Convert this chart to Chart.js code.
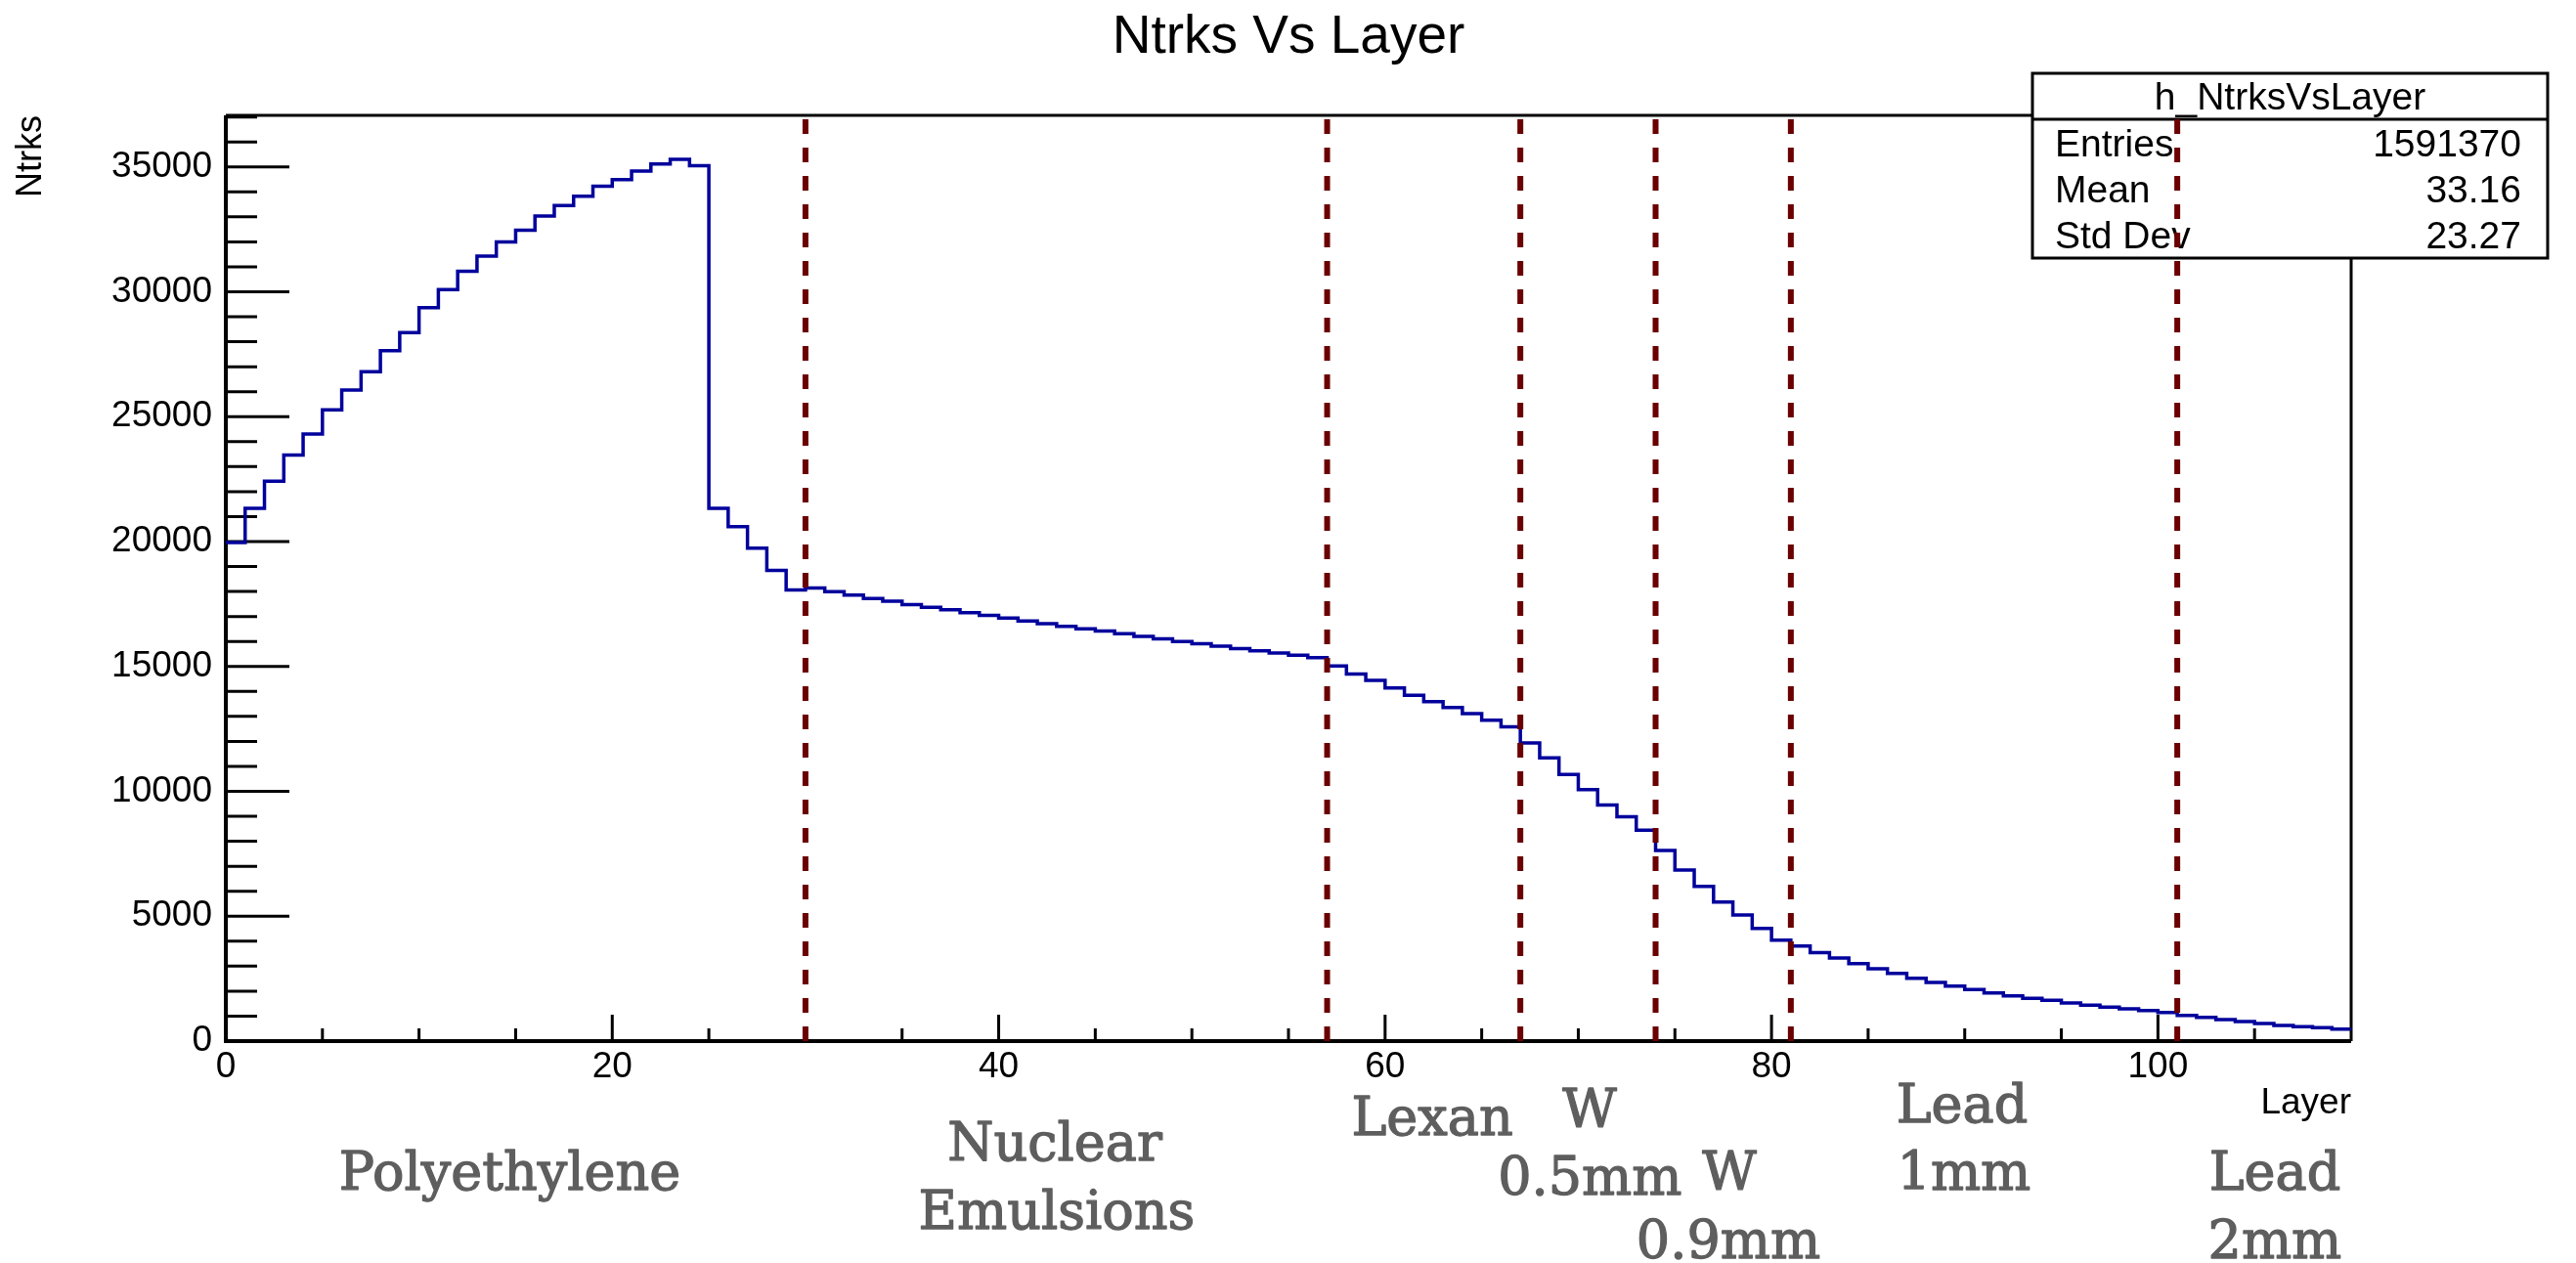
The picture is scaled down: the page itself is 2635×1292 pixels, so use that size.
<!DOCTYPE html>
<html>
<head>
<meta charset="utf-8">
<script src="https://cdn.jsdelivr.net/npm/chart.js@4.4.1/dist/chart.umd.min.js"></script>
<style>
  html, body { margin: 0; padding: 0; background: #ffffff; }
  canvas { display: block; }
</style>
</head>
<body>
<canvas id="c" width="2635" height="1292"></canvas>
<script>
// ---------------- data ----------------
const TITLE = 'Ntrks Vs Layer';
const X_TITLE = 'Layer';
const Y_TITLE = 'Ntrks';

// one value per layer bin [i, i+1), i = 0..109
const NTRKS = [
  19960, 21330, 22420, 23460, 24310, 25270, 26070, 26800, 27640, 28370,
  29360, 30090, 30820, 31430, 32000, 32470, 33030, 33450, 33830, 34230,
  34490, 34830, 35120, 35300, 35050, 21330, 20600, 19735, 18850, 18060,
  18140, 17990, 17860, 17725, 17610, 17480, 17370, 17270, 17150, 17050,
  16940, 16825, 16710, 16600, 16510, 16420, 16315, 16200, 16110, 16000,
  15910, 15810, 15715, 15625, 15535, 15455, 15350, 15020, 14700, 14440,
  14140, 13850, 13590, 13355, 13110, 12850, 12585, 11935, 11345, 10680,
  10070, 9455, 8985, 8440, 7630, 6850, 6195, 5570, 5050, 4510,
  4043, 3808, 3540, 3326, 3100, 2895, 2713, 2517, 2348, 2204,
  2061, 1930, 1813, 1709, 1630, 1526, 1435, 1356, 1291, 1226,
  1148, 1030, 952, 861, 783, 704, 626, 574, 535, 483
];

const X_MIN = 0;
const X_MAX = 110;
const Y_MIN = 0;
const Y_MAX = 37065;

const X_TICKS = [0, 20, 40, 60, 80, 100];
const Y_TICKS = [0, 5000, 10000, 15000, 20000, 25000, 30000, 35000];

// material boundaries (layer numbers)
const BOUNDARIES = [30, 57, 67, 74, 81, 101];

// statistics box
const STATS_NAME = 'h_NtrksVsLayer';
const STATS_LABELS = ['Entries', 'Mean', 'Std Dev'];
const STATS_VALUES = ['1591370', '33.16', '23.27'];

// material annotations
const ANNOT_TEXT = ['Polyethylene', 'Nuclear', 'Emulsions', 'Lexan', 'W', '0.5mm', 'W', '0.9mm', 'Lead', '1mm', 'Lead', '2mm'];

// ---------------- layout (not data) ----------------
// annotation anchors in axis units (layer, Ntrks) -> placed through the scales
const ANNOT_POS = [
  [14.70, -5947], [42.91, -4774], [43.00, -7513], [62.44, -3756],
  [70.58, -3443], [70.60, -6143], [77.82, -5947], [77.77, -8687],
  [89.86, -3248], [89.96, -5947], [106.05, -5947], [106.05, -8687]
];

const FONT_SANS = 'Liberation Sans, Arial, Helvetica, sans-serif';
const FONT_ANNOT = 'DejaVu Serif, serif';

// minor tick positions
const X_MINOR = [];
for (let v = X_MIN + 5; v < X_MAX; v += 5) if (!X_TICKS.includes(v)) X_MINOR.push(v);
const Y_MINOR = [];
for (let v = 1000; v <= Y_MAX; v += 1000) if (!Y_TICKS.includes(v)) Y_MINOR.push(v);

// histogram outline points: bin low edges, plus closing edge
const histPoints = NTRKS.map((v, i) => ({ x: X_MIN + i, y: v }));
histPoints.push({ x: X_MIN + NTRKS.length, y: NTRKS[NTRKS.length - 1] });

const rootStyle = {
  id: 'rootStyle',
  beforeDatasetsDraw(chart) {
    const { ctx, chartArea: a, scales: { x, y } } = chart;
    ctx.save();
    ctx.strokeStyle = '#000';
    ctx.lineCap = 'butt';

    // title
    ctx.fillStyle = '#000';
    ctx.font = '55px ' + FONT_SANS;
    ctx.textAlign = 'center';
    ctx.textBaseline = 'alphabetic';
    ctx.fillText(TITLE, (a.left + a.right) / 2, 54);

    // frame (top + right)
    ctx.lineWidth = 3;
    ctx.beginPath();
    ctx.moveTo(a.left, a.top);
    ctx.lineTo(a.right, a.top);
    ctx.lineTo(a.right, a.bottom);
    ctx.stroke();

    // axes
    ctx.lineWidth = 4;
    ctx.beginPath();
    ctx.moveTo(a.left, a.top);
    ctx.lineTo(a.left, a.bottom);
    ctx.lineTo(a.right, a.bottom);
    ctx.stroke();

    // ticks
    ctx.lineWidth = 3;
    ctx.beginPath();
    Y_TICKS.forEach(v => { const p = y.getPixelForValue(v); ctx.moveTo(a.left, p); ctx.lineTo(a.left + 65, p); });
    Y_MINOR.forEach(v => { const p = y.getPixelForValue(v); ctx.moveTo(a.left, p); ctx.lineTo(a.left + 32, p); });
    X_TICKS.forEach(v => { const p = x.getPixelForValue(v); ctx.moveTo(p, a.bottom); ctx.lineTo(p, a.bottom - 27); });
    X_MINOR.forEach(v => { const p = x.getPixelForValue(v); ctx.moveTo(p, a.bottom); ctx.lineTo(p, a.bottom - 13); });
    ctx.stroke();

    // statistics box
    const bx0 = 2079, bx1 = 2606, by0 = 75, by1 = 264, bsep = 122;
    ctx.fillStyle = '#fff';
    ctx.fillRect(bx0, by0, bx1 - bx0, by1 - by0);
    ctx.lineWidth = 3;
    ctx.strokeRect(bx0, by0, bx1 - bx0, by1 - by0);
    ctx.beginPath();
    ctx.moveTo(bx0, bsep); ctx.lineTo(bx1, bsep);
    ctx.stroke();
    ctx.fillStyle = '#000';
    ctx.font = '39px ' + FONT_SANS;
    ctx.textBaseline = 'middle';
    ctx.textAlign = 'center';
    ctx.fillText(STATS_NAME, (bx0 + bx1) / 2, 101);
    const rowY = [149, 196, 243];
    STATS_LABELS.forEach((lab, i) => {
      ctx.textAlign = 'left';
      ctx.fillText(lab, bx0 + 23, rowY[i]);
      ctx.textAlign = 'right';
      ctx.fillText(STATS_VALUES[i], bx1 - 27, rowY[i]);
    });
    ctx.restore();
  },
  afterDraw(chart) {
    const { ctx, scales: { x, y } } = chart;
    ctx.save();
    ctx.fillStyle = '#5e5e5e';
    ctx.strokeStyle = '#5e5e5e';
    ctx.lineWidth = 1.3;
    ctx.lineJoin = 'round';
    ctx.font = '54px ' + FONT_ANNOT;
    ctx.textAlign = 'center';
    ctx.textBaseline = 'alphabetic';
    ANNOT_TEXT.forEach((t, i) => {
      const [lx, ly] = ANNOT_POS[i];
      const px = x.getPixelForValue(lx), py = y.getPixelForValue(ly);
      ctx.fillText(t, px, py);
      ctx.strokeText(t, px, py);
    });
    ctx.restore();
  }
};

const boundarySets = BOUNDARIES.map(b => ({
  data: [{ x: b, y: Y_MIN }, { x: b, y: Y_MAX }],
  borderColor: '#6a0000',
  borderWidth: 6,
  borderDash: [15, 14],
  pointRadius: 0,
  fill: false,
  tension: 0
}));

new Chart(document.getElementById('c'), {
  type: 'line',
  data: {
    datasets: [
      ...boundarySets,
      {
        data: histPoints,
        borderColor: '#00009c',
        borderWidth: 3.5,
        stepped: 'before',
        pointRadius: 0,
        fill: false
      }
    ]
  },
  options: {
    responsive: false,
    animation: false,
    devicePixelRatio: 1,
    events: [],
    layout: { padding: { left: 0, right: 230, top: 118, bottom: 0 } },
    plugins: {
      legend: { display: false },
      tooltip: { enabled: false },
      title: { display: false }
    },
    scales: {
      x: {
        type: 'linear',
        min: X_MIN,
        max: X_MAX,
        grid: { display: false, drawTicks: false },
        border: { display: false },
        afterBuildTicks: s => { s.ticks = X_TICKS.map(v => ({ value: v })); },
        afterFit: s => { s.height = 227; },
        ticks: {
          color: '#000',
          font: { family: FONT_SANS, size: 37, lineHeight: 1.2 },
          padding: 5,
          maxRotation: 0,
          autoSkip: false,
          callback: v => String(v)
        },
        title: {
          display: true,
          text: X_TITLE,
          align: 'end',
          color: '#000',
          font: { family: FONT_SANS, size: 37, lineHeight: 1.2 },
          padding: { top: 0, bottom: 141 }
        }
      },
      y: {
        type: 'linear',
        min: Y_MIN,
        max: Y_MAX,
        grid: { display: false, drawTicks: false },
        border: { display: false },
        afterBuildTicks: s => { s.ticks = Y_TICKS.map(v => ({ value: v })); },
        afterFit: s => { s.width = 231; },
        ticks: {
          color: '#000',
          font: { family: FONT_SANS, size: 37, lineHeight: 1.2 },
          padding: 14,
          autoSkip: false,
          callback: v => String(v)
        },
        title: {
          display: true,
          text: Y_TITLE,
          align: 'end',
          color: '#000',
          font: { family: FONT_SANS, size: 36, lineHeight: 1.2 },
          padding: { top: 10, bottom: 0 }
        }
      }
    }
  },
  plugins: [rootStyle]
});
</script>
</body>
</html>
